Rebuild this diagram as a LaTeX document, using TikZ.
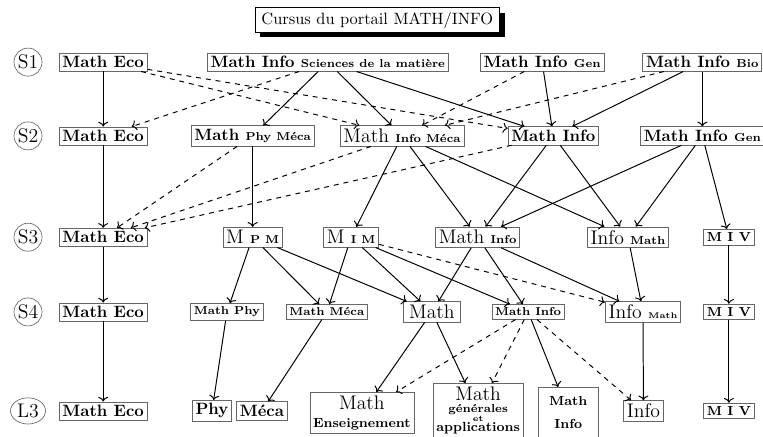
\documentclass[tikz,border=0pt]{standalone}
\usepackage{fontspec}
\usepackage{tikz}
\usetikzlibrary{shapes.geometric, arrows.meta, shadows}

\begin{document}
\begin{tikzpicture}[
  box/.style={draw=black!60, inner sep=2pt, font=\bfseries, align=center},
  sem/.style={circle, draw=black!60, minimum size=0.6cm, inner sep=0pt, font=\large},
  arr/.style={->, semithick},
  opt/.style={->, semithick, dashed}]
\useasboundingbox (0,0) rectangle (16.34,9.34);

% Titre
\node[draw, fill=white, inner xsep=4pt, inner ysep=2.5pt,
  drop shadow={shadow xshift=3pt, shadow yshift=-3pt, fill=black, opacity=1}]
  (titre) at (8.08,8.91) {Cursus du portail MATH/INFO};

% Semestres
\foreach \s/\y in {S1/8.01, S2/6.43, S3/4.26, S4/2.66}
  \node[sem] (\s) at (0.60,\y) {\s};
\node[ellipse, draw=black!60, minimum width=0.75cm, minimum height=0.56cm, inner sep=0pt, font=\large] (L3) at (0.60,0.54) {L3};

% S1
\node[box] (eco1) at (2.21,8.01) {Math Eco};
\node[box] (mism) at (7.02,8.01) {Math Info {\scriptsize Sciences de la matière}};
\node[box] (migen1) at (11.61,8.01) {Math Info {\scriptsize Gen}};
\node[box] (mibio) at (15.04,8.01) {Math Info {\scriptsize Bio}};

% S2
\node[box] (eco2) at (2.21,6.43) {Math Eco};
\node[box] (mpm2) at (5.41,6.43) {Math {\scriptsize Phy Méca}};
\node[box] (mim2) at (8.61,6.43) {{\mdseries\large Math} {\scriptsize Info Méca}};
\node[box] (mi2) at (11.85,6.43) {Math Info};
\node[box] (migen2) at (15.04,6.43) {Math Info {\scriptsize Gen}};

% S3
\node[box] (eco3) at (2.21,4.26) {Math Eco};
\node[box] (mpm3) at (5.41,4.26) {{\mdseries\large M} {\scriptsize P M}};
\node[box] (mim3) at (7.52,4.26) {{\mdseries\large M} {\scriptsize I M}};
\node[box] (mi3) at (10.23,4.26) {{\mdseries\large Math} {\scriptsize Info}};
\node[box] (im3) at (13.45,4.26) {{\mdseries\large Info} {\scriptsize Math}};
\node[box] (miv3) at (15.61,4.26) {\footnotesize M I V};

% S4
\node[box] (eco4) at (2.21,2.66) {Math Eco};
\node[box] (mphy4) at (4.86,2.66) {\scriptsize Math Phy};
\node[box] (mmeca4) at (7.00,2.66) {\scriptsize Math Méca};
\node[box, inner xsep=3.5pt] (math4) at (9.25,2.66) {\mdseries\large Math};
\node[box] (mi4) at (11.31,2.66) {\scriptsize Math Info};
\node[box] (im4) at (13.77,2.66) {{\mdseries\large Info} {\tiny Math}};
\node[box] (miv4) at (15.61,2.66) {\footnotesize M I V};

% L3
\node[box] (eco5) at (2.21,0.54) {Math Eco};
\node[box] (phy5) at (4.54,0.54) {Phy};
\node[box] (meca5) at (5.61,0.54) {Méca};
\node[box] (mens5) at (7.75,0.50) {{\mdseries\large Math}\\[-1pt]{\footnotesize Enseignement}};
\node[box, anchor=north] (mga5) at (10.24,1.135) {{\mdseries\large Math}\\[-4.7pt]{\scriptsize générales}\\[-6.5pt]{\tiny et}\\[-5.9pt]{\footnotesize applications}};
\node[box, minimum width=1.29cm, minimum height=1.07cm] (mi5) at (12.17,0.51) {\footnotesize Math\\[2pt]\footnotesize Info};
\node[box] (info5) at (13.78,0.54) {\mdseries\large Info};
\node[box] (miv5) at (15.61,0.54) {\footnotesize M I V};

% Passages
\foreach \a/\b in {eco1/eco2, mism/mpm2, mism/mim2, mism/mi2, migen1/mi2, mibio/mi2, mibio/migen2,
  eco2/eco3, mpm2/mpm3, mim2/mim3, mim2/mi3, mim2/im3, mi2/mi3, mi2/im3, migen2/mi3, migen2/im3, migen2/miv3,
  eco3/eco4, mpm3/mphy4, mpm3/mmeca4, mpm3/math4, mim3/mmeca4, mim3/math4, mim3/mi4, mi3/math4, mi3/mi4, mi3/im4, im3/im4, miv3/miv4,
  eco4/eco5, mphy4/phy5, mmeca4/meca5, math4/mens5, math4/mga5, mi4/mi5, im4/info5, miv4/miv5}
  \draw[arr] (\a) -- (\b);

% Passages possibles
\foreach \a/\b in {eco1/mim2, eco1/mi2, mism/eco2, migen1/mim2, mibio/mim2,
  mpm2/eco3, mim2/eco3, mi2/eco3, mim3/im4, mi4/mens5, mi4/mga5, mi4/info5}
  \draw[opt] (\a) -- (\b);
\end{tikzpicture}
\end{document}
